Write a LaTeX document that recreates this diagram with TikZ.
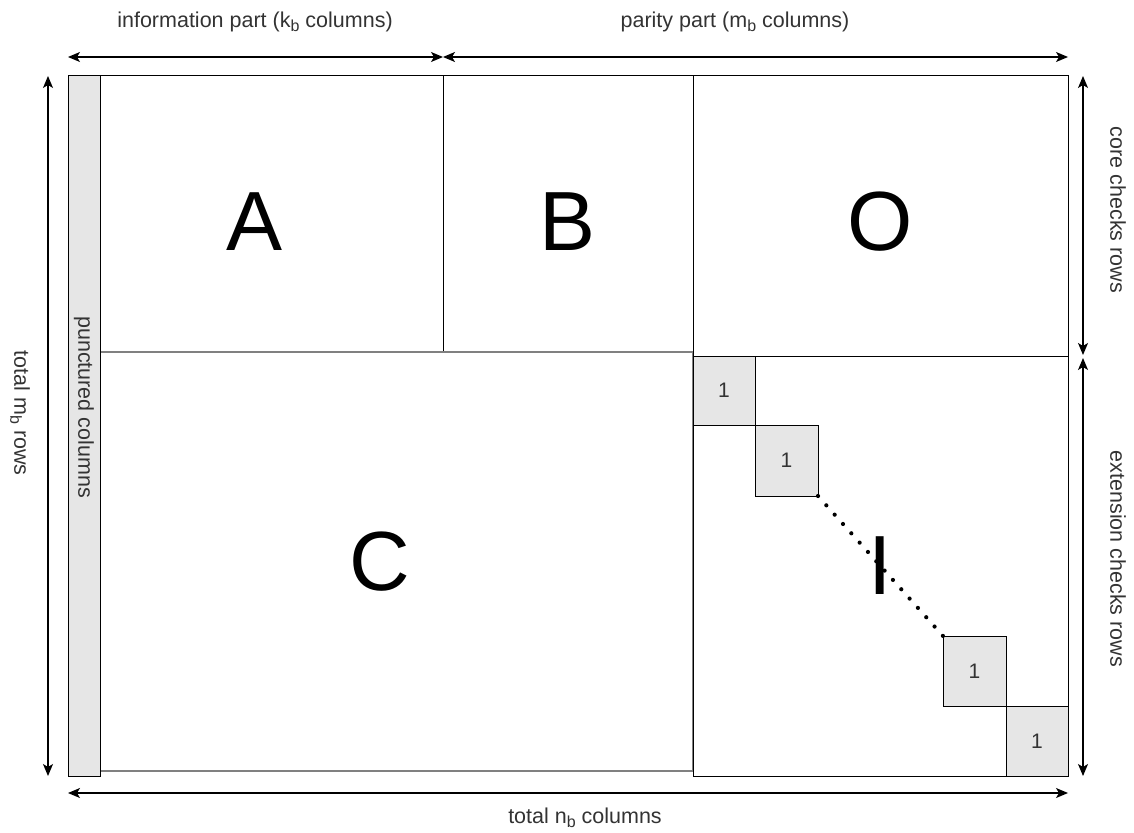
\documentclass[tikz,border=0pt]{standalone}
\usepackage{fontspec}
\setmainfont{Liberation Sans}
\usetikzlibrary{arrows.meta}
\definecolor{txt}{RGB}{51,51,51}
\definecolor{cellgray}{RGB}{230,230,230}
\definecolor{cline}{RGB}{128,128,128}
\tikzset{
  blk/.style={draw=black, line width=1pt, inner sep=0pt, outer sep=0pt, anchor=center},
  onecell/.style={blk, fill=cellgray, text=txt, font=\fontsize{21}{24}\selectfont},
  big/.style={inner sep=0pt, font=\fontsize{84}{90}\selectfont, text=black},
  lbl/.style={inner sep=0pt, text=txt, font=\fontsize{21.5}{25}\selectfont},
  dim/.style={line width=1.2pt, {Stealth[length=12pt,width=10pt,inset=3pt]}-{Stealth[length=12pt,width=10pt,inset=3pt]}},
}
\newcommand{\lowsub}[1]{\raisebox{-0.35ex}{\fontsize{16}{18}\selectfont #1}}
\begin{document}
\begin{tikzpicture}[x=1pt,y=-1pt]
\useasboundingbox (0,0) rectangle (1134,832);
% A, B blocks
\node[blk, minimum width=343pt, minimum height=276pt] (Ablk) at (271.5,214) {};
\node[blk, minimum width=250pt, minimum height=276pt] (Bblk) at (568,214) {};
% C block (gray top/bottom)
\node[blk, draw=cline, line width=2.2pt, minimum width=593pt, minimum height=419pt] (Cblk) at (396.5,561.5) {};
% O, I blocks
\node[blk, minimum width=375pt, minimum height=280pt] (Oblk) at (880.5,216) {};
\node[blk, minimum width=375pt, minimum height=420pt] (Iblk) at (880.5,566) {};
% punctured columns
\node[blk, fill=cellgray, minimum width=32pt, minimum height=700pt] (punct) at (84,426) {};
\node[lbl, rotate=-90] (punctlbl) at (84,407) {punctured columns};
% ones on the diagonal
\node[onecell, minimum width=62pt, minimum height=69pt] (s1) at (724,390.5) {1};
\node[onecell, minimum width=63pt, minimum height=71pt] (s2) at (786.5,460.5) {1};
\node[onecell, minimum width=63pt, minimum height=70pt] (s3) at (974.5,671) {1};
\node[onecell, minimum width=62pt, minimum height=70pt] (s4) at (1037,741) {1};
\draw[line width=4.2pt, line cap=round, dash pattern=on 0pt off 12.5pt] (s2.south east) -- (s3.north west);
% big letters
\node[big] (A) at (255,222) {A};
\node[big] (B) at (568,222) {B};
\node[big] (O) at (880,222) {O};
\node[big] (C) at (380,562) {C};
\node[big] (I) at (880,566) {I};
% dimension arrows
\coordinate (tl) at (68,57);
\coordinate (tm) at (443,57);
\coordinate (tr) at (1068,57);
\draw[dim] (tl) -- (tm);
\draw[dim] (tm) -- (tr);
\node[lbl] (infolbl) at (255,22) {information part (k\lowsub{b} columns)};
\node[lbl] (paritylbl) at (735,22) {parity part (m\lowsub{b} columns)};
\coordinate (lt) at (48,76);
\coordinate (lb) at (48,776);
\draw[dim] (lt) -- (lb);
\node[lbl, rotate=-90] (totmlbl) at (20,413) {total m\lowsub{b} rows};
\coordinate (rt) at (1083,76);
\coordinate (rm1) at (1083,355);
\coordinate (rm2) at (1083,358);
\coordinate (rb) at (1083,776);
\draw[dim] (rt) -- (rm1);
\draw[dim] (rm2) -- (rb);
\node[lbl, rotate=-90] (corelbl) at (1118,210) {core checks rows};
\node[lbl, rotate=-90] (extlbl) at (1118,559) {extension checks rows};
\coordinate (bl) at (68,793);
\coordinate (br) at (1068,793);
\draw[dim] (bl) -- (br);
\node[lbl] (totnlbl) at (585,818) {total n\lowsub{b} columns};
\end{tikzpicture}
\end{document}
